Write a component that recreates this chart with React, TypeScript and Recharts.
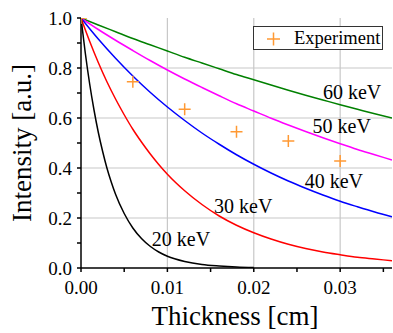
import React from 'react';
import {
  ComposedChart,
  Line,
  Scatter,
  XAxis,
  YAxis,
  ReferenceLine,
  ReferenceDot,
  Legend,
} from 'recharts';

// ---- data ----
const xTicks = [0, 0.005, 0.01, 0.015, 0.02, 0.025, 0.03, 0.035];
const xMajor = [0.01, 0.02, 0.03];
const yTicks = [0, 0.1, 0.2, 0.3, 0.4, 0.5, 0.6, 0.7, 0.8, 0.9, 1.0];
const yMajor = [0.2, 0.4, 0.6, 0.8];

const xs2 = [0, 0.002, 0.004, 0.006, 0.008, 0.01, 0.012, 0.014, 0.016, 0.018, 0.02, 0.022, 0.024, 0.026, 0.028, 0.03, 0.032, 0.034, 0.036];
const i60 = [1.0, 0.972, 0.945, 0.918, 0.893, 0.868, 0.843, 0.82, 0.797, 0.774, 0.753, 0.732, 0.711, 0.691, 0.672, 0.653, 0.635, 0.617, 0.6];
const i50 = [1.0, 0.954, 0.911, 0.87, 0.83, 0.792, 0.756, 0.722, 0.689, 0.657, 0.628, 0.599, 0.572, 0.546, 0.521, 0.497, 0.474, 0.453, 0.432];
const i40 = [1.0, 0.916, 0.839, 0.768, 0.703, 0.644, 0.59, 0.54, 0.495, 0.453, 0.415, 0.38, 0.348, 0.319, 0.292, 0.267, 0.245, 0.224, 0.205];

const xs30 = [0, 0.001, 0.002, 0.003, 0.004, 0.005, 0.006, 0.007, 0.008, 0.009, 0.01, 0.012, 0.014, 0.016, 0.018, 0.02, 0.022, 0.024, 0.026, 0.028, 0.03, 0.032, 0.034, 0.036];
const i30 = [1.0, 0.907, 0.822, 0.745, 0.676, 0.613, 0.555, 0.504, 0.457, 0.414, 0.375, 0.309, 0.254, 0.208, 0.171, 0.141, 0.116, 0.095, 0.078, 0.064, 0.053, 0.043, 0.036, 0.029];

const xs20 = [0, 0.0005, 0.001, 0.0015, 0.002, 0.0025, 0.003, 0.0035, 0.004, 0.005, 0.006, 0.007, 0.008, 0.009, 0.01, 0.012, 0.014, 0.016, 0.018, 0.02];
const i20 = [1.0, 0.859, 0.737, 0.633, 0.543, 0.467, 0.4, 0.344, 0.295, 0.218, 0.16, 0.118, 0.087, 0.064, 0.047, 0.026, 0.014, 0.008, 0.004, 0.002];

const expX = [0, 0.006, 0.012, 0.018, 0.024, 0.03];
const expY = [1.0, 0.745, 0.635, 0.545, 0.508, 0.428];

const curveNames = ['60 keV', '50 keV', '40 keV', '30 keV', '20 keV'];
const curveColors = ['#008000', '#FF00FF', '#0000FF', '#FF0000', '#000000'];
const labelX = [0.028, 0.0268, 0.0259, 0.0154, 0.0082];
const labelY = [0.676, 0.54, 0.32, 0.22, 0.088];

const zip = (xs: number[], ys: number[]) => xs.map((x, i) => ({ x, y: ys[i] }));
const curves = [zip(xs2, i60), zip(xs2, i50), zip(xs2, i40), zip(xs30, i30), zip(xs20, i20)];
const expData = zip(expX, expY);

const FONT = 'Liberation Serif';
const ORANGE = '#FF9933';

const Plus = (props: any) => {
  const { cx, cy } = props;
  if (cx == null || cy == null) return null;
  return (
    <g>
      <line x1={cx - 6} x2={cx + 6} y1={cy} y2={cy} stroke={ORANGE} strokeWidth={1.5} />
      <line x1={cx} x2={cx} y1={cy - 6} y2={cy + 6} stroke={ORANGE} strokeWidth={1.5} />
    </g>
  );
};

const LegendBox = () => (
  <div
    style={{
      width: 128,
      height: 22,
      border: '1.5px solid #333',
      background: '#fff',
      display: 'flex',
      alignItems: 'center',
      fontFamily: 'Liberation Serif, serif',
      fontSize: 18.5,
      color: '#000',
      boxSizing: 'content-box',
    }}
  >
    <svg width={36} height={22}>
      <line x1={13} x2={26} y1={12} y2={12} stroke={ORANGE} strokeWidth={1.5} />
      <line x1={19.5} x2={19.5} y1={5.5} y2={18.5} stroke={ORANGE} strokeWidth={1.5} />
    </svg>
    <span style={{ marginLeft: 4, lineHeight: '22px' }}>Experiment</span>
  </div>
);

const fmtX = (v: number) => (xMajor.includes(v) || v === 0 ? v.toFixed(2) : '');
const fmtY = (v: number) => (Math.round(v * 10) % 2 === 0 ? v.toFixed(1) : '');

export default function App() {
  return (
    <div style={{ position: 'absolute', left: 0, top: 0, width: 393, height: 333, background: '#fff' }}>
      <ComposedChart width={393} height={333} margin={{ top: 18, right: 1, bottom: 35, left: 0 }}>
        <XAxis
          type="number"
          dataKey="x"
          domain={[0, 0.036]}
          allowDataOverflow
          ticks={xTicks}
          tickFormatter={fmtX}
          interval={0}
          height={30}
          tickSize={4}
          tickMargin={9}
          stroke="#000"
          strokeWidth={1.5}
          tick={{ fill: '#000', fontSize: 19, fontFamily: FONT }}
          label={{
            content: () => (
              <text x={235} y={325} textAnchor="middle" fontSize={27} fontFamily={FONT} fill="#000">
                Thickness [cm]
              </text>
            ),
          }}
        />
        <XAxis
          xAxisId="top"
          orientation="top"
          type="number"
          domain={[0, 0.036]}
          allowDataOverflow
          ticks={xTicks}
          tickFormatter={() => ''}
          interval={0}
          height={0}
          mirror
          tickSize={4}
          stroke="#000"
          strokeWidth={1.5}
        />
        <YAxis
          type="number"
          dataKey="y"
          domain={[0, 1]}
          allowDataOverflow
          ticks={yTicks}
          tickFormatter={fmtY}
          interval={0}
          width={81}
          tickSize={4}
          tickMargin={5}
          stroke="#000"
          strokeWidth={1.5}
          tick={{ fill: '#000', fontSize: 19, fontFamily: FONT }}
          label={{
            content: () => (
              <text
                x={31}
                y={143}
                textAnchor="middle"
                transform="rotate(-90, 31, 143)"
                fontSize={27}
                fontFamily={FONT}
                fill="#000"
              >
                Intensity [a.u.]
              </text>
            ),
          }}
        />
        <YAxis
          yAxisId="right"
          orientation="right"
          type="number"
          domain={[0, 1]}
          allowDataOverflow
          ticks={yTicks}
          tickFormatter={() => ''}
          interval={0}
          width={0}
          mirror
          tickSize={4}
          stroke="#000"
          strokeWidth={1.5}
        />
        {xMajor.map((v) => (
          <ReferenceLine key={'gx' + v} x={v} stroke="#C8C8C8" strokeWidth={1.2} />
        ))}
        {yMajor.map((v) => (
          <ReferenceLine key={'gy' + v} y={v} stroke="#C8C8C8" strokeWidth={1.2} />
        ))}
        {curves.map((d, i) => (
          <Line
            key={curveNames[i]}
            data={d}
            dataKey="y"
            type="monotone"
            stroke={curveColors[i]}
            strokeWidth={1.5}
            dot={false}
            activeDot={false}
            isAnimationActive={false}
            legendType="none"
            name={curveNames[i]}
          />
        ))}
        <Scatter
          data={expData}
          dataKey="y"
          name="Experiment"
          shape={<Plus />}
          isAnimationActive={false}
        />
        {curveNames.map((n, i) => (
          <ReferenceDot
            key={'lab' + n}
            x={labelX[i]}
            y={labelY[i]}
            r={0}
            stroke="none"
            fill="none"
            ifOverflow="visible"
            label={{
              content: (p: any) => (
                <text
                  x={p.viewBox.x}
                  y={p.viewBox.y}
                  textAnchor="start"
                  fontSize={20}
                  fill="#000"
                  fontFamily={FONT}
                >
                  {n}
                </text>
              ),
            }}
          />
        ))}
        <Legend
          layout="vertical"
          verticalAlign="middle"
          align="center"
          wrapperStyle={{ left: 253, top: 26, width: 132 }}
          content={() => <LegendBox />}
        />
      </ComposedChart>
    </div>
  );
}
